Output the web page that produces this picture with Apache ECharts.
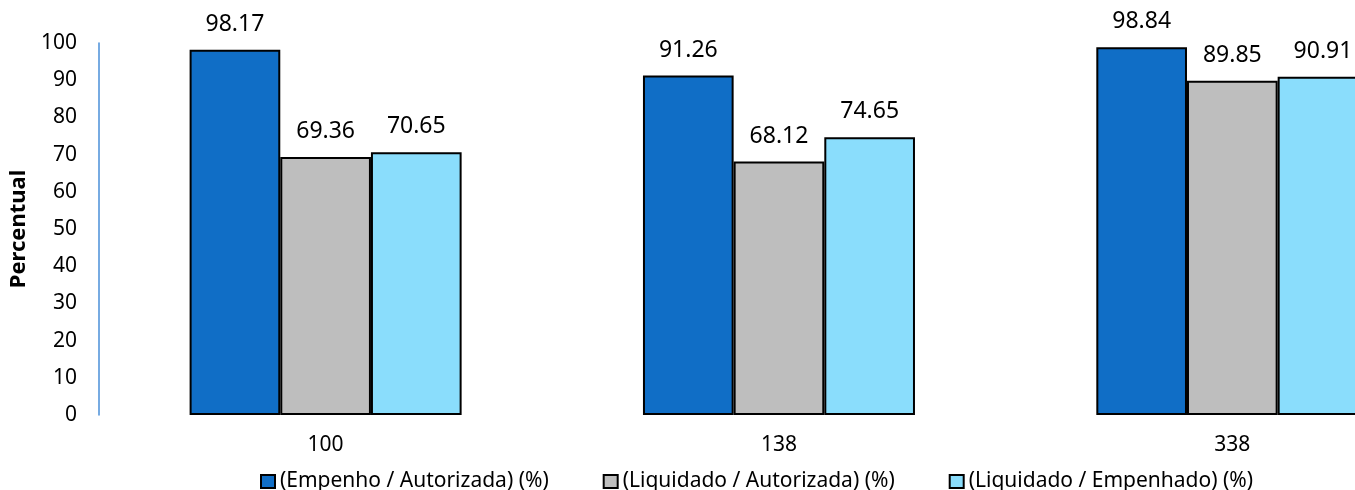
<!DOCTYPE html>
<html>
<head>
<meta charset="utf-8">
<script src="https://cdn.jsdelivr.net/npm/echarts@6/dist/echarts.min.js"></script>
<style>
html,body{margin:0;padding:0;background:#fff;overflow:hidden;width:1355px;height:490px;}
#chart{width:1460px;height:490px;}
</style>
</head>
<body>
<div id="chart"></div>
<script>
var categories = ['100', '138', '338'];
var seriesNames = ['(Empenho / Autorizada) (%)', '(Liquidado / Autorizada) (%)', '(Liquidado / Empenhado) (%)'];
var empenhoAutorizada = [98.17, 91.26, 98.84];
var liquidadoAutorizada = [69.36, 68.12, 89.85];
var liquidadoEmpenhado = [70.65, 74.65, 90.91];
var colors = ['#106EC6', '#BEBEBE', '#8ADDFC'];

var font = 'Noto Sans';
var values = [empenhoAutorizada, liquidadoAutorizada, liquidadoEmpenhado];

var chart = echarts.init(document.getElementById('chart'), null, {renderer: 'canvas'});
chart.setOption({
  animation: false,
  backgroundColor: '#ffffff',
  textStyle: {fontFamily: font},
  grid: {left: 97, width: 1362, top: 43, bottom: 75, containLabel: false},
  legend: {
    left: 255, top: 466,
    itemWidth: 14, itemHeight: 13, itemGap: 54,
    icon: 'rect',
    textStyle: {fontFamily: font, fontSize: 21, color: '#000'},
    data: seriesNames
  },
  xAxis: {
    type: 'category',
    data: categories,
    axisLine: {show: false},
    axisTick: {show: false},
    axisLabel: {fontFamily: font, fontSize: 21, color: '#000', margin: 20}
  },
  yAxis: {
    type: 'value',
    min: 0, max: 100, interval: 10,
    name: 'Percentual',
    nameLocation: 'middle',
    nameGap: 59,
    nameTextStyle: {fontFamily: font, fontSize: 22, fontWeight: 'bold', color: '#000'},
    axisLine: {show: true, lineStyle: {color: '#4A8FD8', width: 1.5}},
    axisTick: {show: false},
    splitLine: {show: false},
    axisLabel: {fontFamily: font, fontSize: 21, color: '#000', margin: 22}
  },
  series: values.map(function (v, i) {
    return {
      name: seriesNames[i],
      type: 'bar',
      data: v,
      barGap: '0%',
      barCategoryGap: '40%',
      itemStyle: {color: colors[i], borderColor: '#000', borderWidth: 2},
      label: {
        show: true, position: 'top', distance: 14,
        fontFamily: font, fontSize: 23, color: '#000',
        formatter: function (p) { return p.value.toFixed(2); }
      }
    };
  })
});
</script>
</body>
</html>
